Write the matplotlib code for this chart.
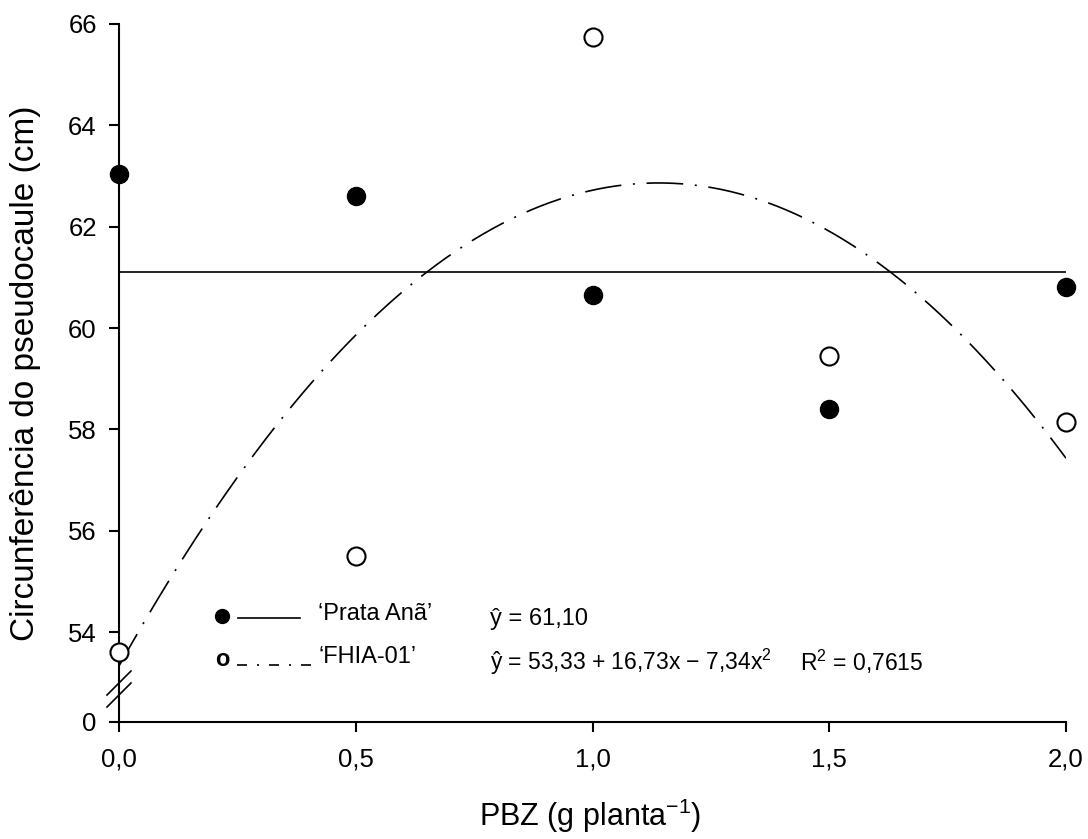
import numpy as np
import matplotlib
matplotlib.use("Agg")
import matplotlib.pyplot as plt
from matplotlib.lines import Line2D

plt.rcParams['font.family'] = ['Liberation Sans', 'DejaVu Sans']
plt.rcParams['mathtext.fontset'] = 'custom'
plt.rcParams['mathtext.rm'] = 'Liberation Sans'
plt.rcParams['mathtext.it'] = 'Liberation Sans:italic'

# Data
doses = [0.0, 0.5, 1.0, 1.5, 2.0]
prata_ana = [63.03, 62.60, 60.65, 58.40, 60.80]
fhia_01 = [53.60, 55.50, 65.75, 59.45, 58.15]
prata_mean = 61.10
fhia_coef = [53.33, 16.73, -7.34]
x_ticks = [0.0, 0.5, 1.0, 1.5, 2.0]
x_ticklabels = ["0,0", "0,5", "1,0", "1,5", "2,0"]
y_ticks_main = [54, 56, 58, 60, 62, 64, 66]

Y0 = 52.224  # position where "0" is drawn (axis break)

W, H = 1088, 839
def fy(py):
    return 1 - py/H
def fx(px):
    return px/W

fig = plt.figure(figsize=(10.88, 8.39), dpi=100)
ax = fig.add_axes([fx(119), fy(722), (1066-119)/W, (722-24)/H])

ax.set_xlim(0, 2.0)
ax.set_ylim(Y0, 66)
for s in ['top', 'right']:
    ax.spines[s].set_visible(False)
for s in ['left', 'bottom']:
    ax.spines[s].set_linewidth(1.5)

# Regression lines
xs = np.linspace(0, 2, 300)
ax.plot([0, 2], [prata_mean, prata_mean], color='black', lw=1.2, zorder=2)
ys = fhia_coef[0] + fhia_coef[1]*xs + fhia_coef[2]*xs**2
ax.plot(xs, ys, color='black', lw=1.2, linestyle=(0, (22, 7, 1.2, 7)), zorder=2)

# Points
ax.plot(doses, prata_ana, 'o', color='black', ms=13, zorder=5, clip_on=False)
ax.plot(doses, fhia_01, 'o', mfc='white', mec='black', mew=1.5, ms=13, zorder=5, clip_on=False)

# Ticks
ax.set_xticks(x_ticks)
ax.set_xticklabels(x_ticklabels)
ax.set_yticks([Y0] + y_ticks_main)
ax.set_yticklabels(["0"] + [str(v) for v in y_ticks_main])
ax.tick_params(direction='out', length=7, width=1.5, labelsize=18.5)
ax.tick_params(axis='x', pad=11)
ax.tick_params(axis='y', pad=9)

fig.text(fx(590), fy(826), "PBZ (g planta$^{-1}$)", fontsize=22, ha='center', va='baseline')
fig.text(fx(10), fy(373), "Circunferência do pseudocaule (cm)", fontsize=24,
         rotation=90, ha='left', va='center')

# Axis break marks
for yb in [695, 707]:
    fig.add_artist(Line2D([fx(107), fx(131)], [fy(yb), fy(yb-24)], color='black', lw=1.2))

# Manual legend
fig.add_artist(Line2D([fx(222)], [fy(616)], marker='o', color='black', ms=10, ls='none'))
fig.add_artist(Line2D([fx(238), fx(300)], [fy(618), fy(618)], color='black', lw=1.2))
fig.text(fx(318), fy(614), "\u2018Prata Anã\u2019", fontsize=17, va='center', ha='left')
fig.text(fx(490), fy(619), "ŷ = 61,10", fontsize=17, va='center', ha='left')

fig.text(fx(222), fy(660), "o", fontsize=17, fontweight='bold', va='center', ha='center')
fig.add_artist(Line2D([fx(237), fx(316)], [fy(665), fy(665)], color='black', lw=1.2,
                      linestyle=(0, (6, 6, 1.2, 6))))
fig.text(fx(318), fy(657), "\u2018FHIA-01\u2019", fontsize=17, va='center', ha='left')
fig.text(fx(490), fy(662), "ŷ = 53,33 + 16,73x − 7,34x$^2$", fontsize=16.5, va='center', ha='left')
fig.text(fx(800), fy(662), "R$^2$ = 0,7615", fontsize=16.5, va='center', ha='left')

fig.savefig("out.png", dpi=100)
